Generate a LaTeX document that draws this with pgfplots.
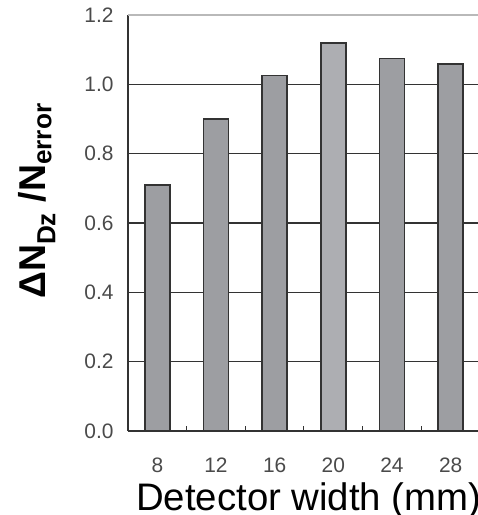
\documentclass[border=0pt]{standalone}
\usepackage{pgfplots}
\pgfplotsset{compat=1.18}
\usepackage{fontspec}
\setmainfont{Liberation Sans}
\definecolor{barfill}{HTML}{9D9EA2}
\definecolor{barfillb}{HTML}{ADAEB2}
\definecolor{edge}{HTML}{333333}
\definecolor{ticktext}{HTML}{4A4A4A}
\begin{document}
\begin{tikzpicture}
\path[use as bounding box] (-128bp,-84bp) rectangle (350bp,431bp);
\clip (-128bp,-84bp) rectangle (350bp,431bp);
\begin{axis}[
  scale only axis,
  width=352bp, height=416bp,
  xmin=-0.5, xmax=5.5,
  ymin=0, ymax=1.2,
  axis x line*=bottom,
  axis y line*=left,
  axis line style={edge, line width=1.2bp},
  xtick={0,1,2,3,4,5},
  xticklabels={8,12,16,20,24,28},
  minor xtick={0.5,1.5,2.5,3.5,4.5},
  major tick length=0pt,
  minor tick length=5bp,
  tick align=inside,
  minor tick style={edge, line width=1bp},
  ytick={0,0.2,0.4,0.6,0.8,1.0},
  extra y ticks={1.2},
  extra y tick style={grid style={draw=gray!55, line width=1.1bp}},
  ymajorgrids,
  grid style={draw=edge, line width=1.1bp},
  yticklabel style={font=\fontsize{21}{22}\selectfont, text=ticktext, xshift=-11bp},
  xticklabel style={font=\fontsize{21}{22}\selectfont, text=ticktext, yshift=-23bp},
  /pgf/number format/.cd, fixed, fixed zerofill, precision=1, assume math mode=true,
]
\addplot[ybar, bar width=25bp, bar shift=0pt, fill=barfill, draw=edge, line width=1.6bp]
  coordinates {(0,0.710) (1,0.900) (2,1.026) (4,1.074) (5,1.058)};
\addplot[ybar, bar width=25bp, bar shift=0pt, fill=barfillb, draw=edge, line width=1.6bp]
  coordinates {(3,1.119)};
\end{axis}
\node[rotate=90, anchor=center, font=\fontsize{37.5}{40}\selectfont\bfseries] at (-91bp,230bp)
  {ΔN\textsubscript{Dz} /N\textsubscript{error}};
\node[anchor=base west, font=\fontsize{38.5}{41}\selectfont, inner sep=0pt] at (8bp,-79bp)
  {Detector width (mm)};
\end{tikzpicture}
\end{document}
